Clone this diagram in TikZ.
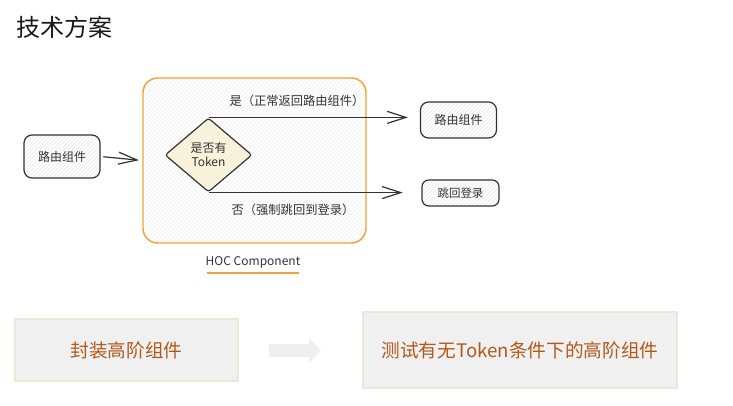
\documentclass[tikz,border=0pt]{standalone}
\usepackage{fontspec}
\setmainfont{Noto Sans CJK SC}
\usetikzlibrary{shapes.geometric,arrows.meta,patterns}
\definecolor{ink}{HTML}{333333}
\definecolor{hocorange}{HTML}{F2A33A}
\definecolor{diafill}{HTML}{FDF5D6}
\definecolor{boxfill}{HTML}{F0F0F0}
\definecolor{boxedge}{HTML}{EDE7D8}
\definecolor{brown}{HTML}{B15A1C}
\definecolor{grayarrow}{HTML}{EFEFEF}
\tikzset{
  sketchbox/.style={draw=ink, line width=0.9pt, rounded corners=6pt, text=ink,
    font=\fontsize{9}{11}\selectfont, inner sep=0pt,
    preaction={fill=white}, pattern=north east lines, pattern color=black!9},
  flowline/.style={draw=ink, line width=0.9pt, -{Straight Barb[length=14pt,width=9pt,line width=0.9pt]}},
  lbl/.style={text=ink, font=\fontsize{9.2}{11}\selectfont, inner sep=0pt},
  taskbox/.style={draw=boxedge, line width=1.5pt, fill=boxfill, text=brown,
    font=\fontsize{14}{17}\selectfont, inner sep=0pt}
}
\begin{document}
\begin{tikzpicture}[x=0.75pt,y=-0.75pt]
\useasboundingbox (0,0) rectangle (733,406);
% title
\node[anchor=west, inner sep=0pt, font=\fontsize{18}{20}\selectfont, text=black!90] (title) at (16,27) {技术方案};
% HOC container
\node[draw=hocorange, line width=1.1pt, rounded corners=11pt, minimum width=167.25pt, minimum height=123.75pt,
  preaction={fill=white}, pattern=north east lines, pattern color=black!6] (hoc) at (254.5,160.5) {};
% left source
\node[sketchbox, minimum width=57pt, minimum height=32.25pt] (src) at (62,156.5) {路由组件};
% diamond
\node[diamond, draw=ink, line width=0.9pt, rounded corners=2pt, minimum width=65.25pt, minimum height=55.5pt,
  inner sep=0pt, preaction={fill=diafill}, pattern=north east lines, pattern color=black!8,
  text=ink, align=center, font=\fontsize{9}{10.5}\selectfont] (dia) at (208.5,155) {是否有\\Token};
% right targets
\node[sketchbox, minimum width=57pt, minimum height=27pt] (ok) at (458.5,120) {路由组件};
\node[sketchbox, rounded corners=5pt, minimum width=57.75pt, minimum height=19.5pt, font=\fontsize{8.6}{10}\selectfont] (login) at (460.5,193) {跳回登录};
% connectors
\draw[flowline, shorten <=2pt, shorten >=2.5pt] (src.east) -- (hoc.west);
\draw[flowline, shorten >=9pt] (dia.north) -- (dia.north -| ok.west);
\draw[flowline, shorten >=14pt] (dia.south) -- (dia.south -| login.west);
% labels
\node[lbl] (yes) at (297,101) {是（正常返回路由组件）};
\node[lbl] (no) at (293,210) {否（强制跳回到登录）};
\node[text=ink, inner sep=0pt, font=\fontsize{9}{11}\selectfont] (hoclbl) at (253,262) {HOC Component};
\coordinate (ul1) at (207,273);
\coordinate (ul2) at (299,273);
\draw[hocorange, line width=1.1pt] (ul1) -- (ul2);
% bottom row
\node[taskbox, minimum width=167.25pt, minimum height=46.5pt] (t1) at (126.5,350) {封装高阶组件};
\node[taskbox, minimum width=235.5pt, minimum height=57pt] (t2) at (520,350) {测试有无Token条件下的高阶组件};
\fill[grayarrow] (269,344) -- (309,344) -- (309,338) -- (321,350.5) -- (309,363) -- (309,357) -- (269,357) -- cycle;
\end{tikzpicture}
\end{document}
